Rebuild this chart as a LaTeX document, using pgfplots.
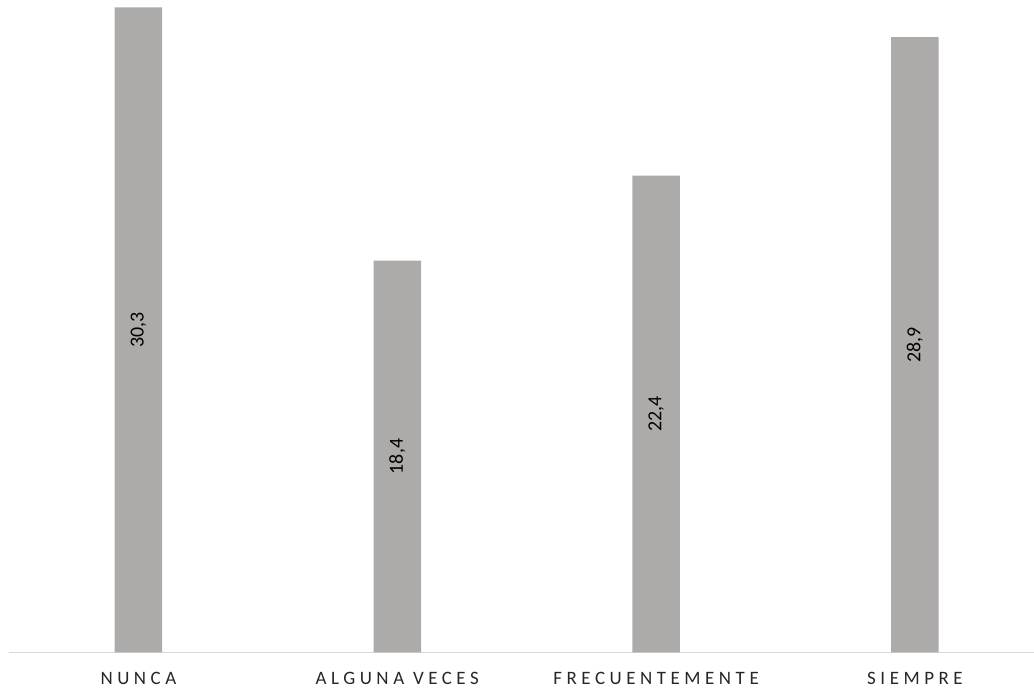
\documentclass[border=0pt]{standalone}
\usepackage{pgfplots}
\pgfplotsset{compat=1.18}
\usepackage{fontspec}
\setmainfont{Carlito}
\newfontfamily\spaced[LetterSpace=24]{Carlito}
\definecolor{barc}{HTML}{ADAAAA}
\definecolor{axc}{HTML}{D9D9D9}
\definecolor{txt}{HTML}{262626}
\begin{document}
\begin{tikzpicture}
\path[use as bounding box] (0,0) rectangle (1034bp,691bp);
\begin{axis}[
  at={(9bp,38.7bp)}, anchor=south west,
  scale only axis,
  width=1025bp, height=652.3bp,
  xmin=-0.5, xmax=3.46,
  ymin=0, ymax=30.65,
  ybar, bar width=47.5bp,
  axis lines*=left,
  hide y axis,
  x axis line style={axc, line width=1.5bp, -},
  xtick=data,
  xticklabels={NUNCA, ALGUNA VECES, FRECUENTEMENTE, SIEMPRE},
  major tick length=0pt,
  xticklabel style={anchor=base, yshift=-32bp, font=\spaced\fontsize{19}{22}\selectfont, text=txt},
  /pgf/number format/assume math mode=true,
  nodes near coords,
  nodes near coords style={/pgf/number format/use comma, /pgf/number format/fixed, /pgf/number format/fixed zerofill, /pgf/number format/precision=1},
  visualization depends on=y \as \rawy,
  every node near coord/.append style={shift={(axis direction cs:0,-\rawy/2)}, rotate=90, anchor=center, font=\fontsize{20}{24}\selectfont, text=black},
]
\addplot[fill=barc, draw=none] coordinates {(0,30.3) (1,18.4) (2,22.4) (3,28.9)};
\end{axis}
\end{tikzpicture}
\end{document}
